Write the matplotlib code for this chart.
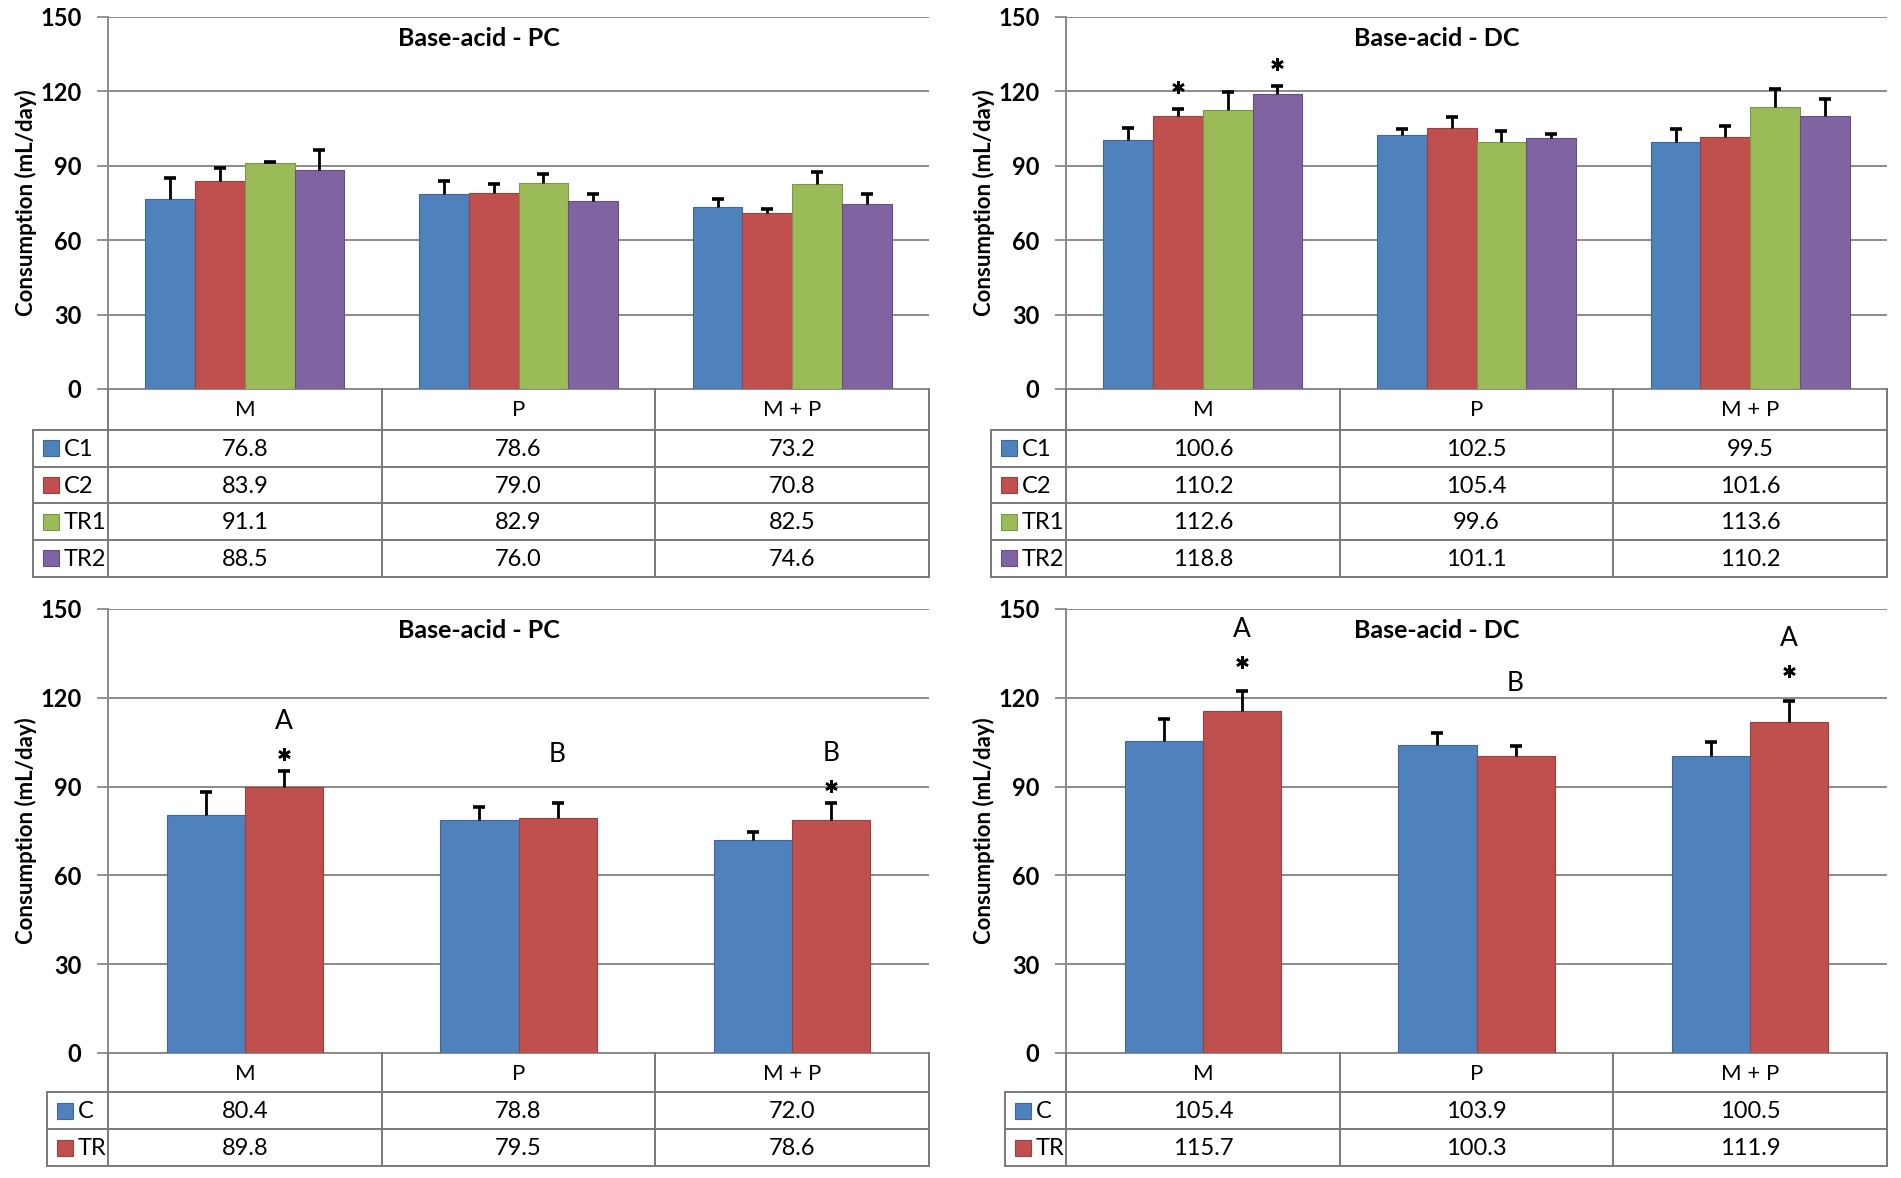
import matplotlib.pyplot as plt
from matplotlib.patches import Rectangle
from matplotlib.colors import to_rgb

W, H = 1901, 1178
plt.rcParams["font.family"] = ["Lato", "DejaVu Sans"]

# ---- data -------------------------------------------------------------
groups = ["M", "P", "M + P"]

names4 = ["C1", "C2", "TR1", "TR2"]
pc4_means = [[76.8, 78.6, 73.2], [83.9, 79.0, 70.8], [91.1, 82.9, 82.5], [88.5, 76.0, 74.6]]
pc4_err = [[8.3, 5.3, 3.4], [5.2, 3.6, 1.8], [0.5, 3.8, 5.0], [7.9, 2.6, 4.0]]
dc4_means = [[100.6, 102.5, 99.5], [110.2, 105.4, 101.6], [112.6, 99.6, 113.6], [118.8, 101.1, 110.2]]
dc4_err = [[4.6, 2.3, 5.3], [2.7, 4.3, 4.4], [7.2, 4.4, 7.4], [3.4, 1.7, 6.8]]
dc4_stars = [(1, 0), (3, 0)]

names2 = ["C", "TR"]
pc2_means = [[80.4, 78.8, 72.0], [89.8, 79.5, 78.6]]
pc2_err = [[7.9, 4.3, 2.8], [5.6, 5.0, 6.0]]
pc2_stars = [(1, 0), (1, 2)]
pc2_letters = ["A", "B", "B"]
dc2_means = [[105.4, 103.9, 100.5], [115.7, 100.3, 111.9]]
dc2_err = [[7.3, 4.3, 4.7], [6.5, 3.5, 7.1]]
dc2_stars = [(1, 0), (1, 2)]
dc2_letters = ["A", "B", "A"]

COLORS = ["#4F81BD", "#C0504D", "#9BBB59", "#8064A2"]
GRID = "#8a8a8a"
TICKS = [0, 30, 60, 90, 120, 150]


def darker(c, f=0.8):
    return tuple(v * f for v in to_rgb(c))


fig = plt.figure(figsize=(W / 100, H / 100), dpi=100)
ov = fig.add_axes([0, 0, 1, 1], zorder=5)
ov.set_xlim(0, W)
ov.set_ylim(H, 0)
ov.axis("off")
ov.patch.set_alpha(0)


def panel(left, right, top, zero, leg_left, head_h, row_h, title, names,
          means, errs, stars=(), letters=None, star_gap=0, letter_gap=0):
    ax = fig.add_axes([left / W, 1 - zero / H, (right - left) / W, (zero - top) / H])
    n = len(names)
    w = 1.0 / (n + 1.5)
    for i in range(n):
        xs = [g + (i - (n - 1) / 2) * w for g in range(3)]
        tops = [m + e for m, e in zip(means[i], errs[i])]
        ax.bar(xs, means[i], width=w, color=COLORS[i], edgecolor=darker(COLORS[i]),
               linewidth=0.8, zorder=3)
        # upper error only, "T" shaped
        ax.errorbar(xs, means[i], yerr=[[0] * 3, errs[i]], fmt="none", ecolor="black",
                    elinewidth=2.0, capsize=0, zorder=4)
        ax.plot(xs, tops, ls="none", marker="_", ms=9, mew=2.6, color="black", zorder=4)
    for i, g in stars:
        x = g + (i - (n - 1) / 2) * w
        ax.plot(x, means[i][g] + errs[i][g] + star_gap, marker=(6, 2, 0), ms=9,
                mew=1.8, color="black", zorder=5, clip_on=False)
    if letters:
        for g, lab in enumerate(letters):
            i = n - 1
            x = g + (i - (n - 1) / 2) * w
            ax.text(x, means[i][g] + errs[i][g] + letter_gap, lab, ha="center",
                    va="center", fontsize=19, zorder=5)
    ax.set_xlim(-0.5, 2.5)
    ax.set_ylim(0, 150)
    ax.set_yticks(TICKS)
    ax.set_yticklabels([str(t) for t in TICKS], fontsize=17, fontweight="bold")
    ax.set_xticks([])
    ax.tick_params(axis="y", length=8, width=1.3, color=GRID, pad=11)
    ax.yaxis.grid(True, color=GRID, linewidth=1.4, zorder=0)
    ax.set_axisbelow(True)
    for s in ("top", "right"):
        ax.spines[s].set_visible(False)
    for s in ("left", "bottom"):
        ax.spines[s].set_color(GRID)
        ax.spines[s].set_linewidth(1.4)
    ax.text(0.452, 1 - 21 / (zero - top), title, transform=ax.transAxes, ha="center",
            va="center", fontsize=18, fontweight="bold")
    ov.text(left - 82, (top + zero) / 2, "Consumption (mL/day)", rotation=90,
            ha="center", va="center", fontsize=16, fontweight="bold")

    # data table under the plot
    bottom = zero + head_h + n * row_h
    colw = (right - left) / 3
    lc = "#7a7a7a"
    for k in range(4):
        x = left + k * colw
        ov.plot([x, x], [zero, bottom], color=lc, lw=1.4)
    ov.plot([leg_left, leg_left], [zero + head_h, bottom], color=lc, lw=1.4)
    for r in range(n + 1):
        y = zero + head_h + r * row_h
        ov.plot([leg_left, right], [y, y], color=lc, lw=1.4)
    for g, lab in enumerate(groups):
        ov.text(left + (g + 0.5) * colw, zero + head_h / 2 + 1, lab, ha="center",
                va="center", fontsize=16)
    for i, nm in enumerate(names):
        yc = zero + head_h + (i + 0.5) * row_h
        ov.add_patch(Rectangle((leg_left + 10, yc - 8), 16, 16, facecolor=COLORS[i],
                               edgecolor=darker(COLORS[i]), lw=0.8))
        ov.text(leg_left + 31, yc + 1, nm, ha="left", va="center", fontsize=17)
        for g in range(3):
            ov.text(left + (g + 0.5) * colw, yc + 1, f"{means[i][g]:.1f}", ha="center",
                    va="center", fontsize=17)


panel(108, 929, 17, 389, 33, 41, 36.7, "Base-acid - PC", names4, pc4_means, pc4_err)
panel(1066, 1887, 17, 389, 991, 41, 36.7, "Base-acid - DC", names4, dc4_means, dc4_err,
      stars=dc4_stars, star_gap=9)
panel(108, 929, 609, 1053, 47, 39, 37, "Base-acid - PC", names2, pc2_means, pc2_err,
      stars=pc2_stars, letters=pc2_letters, star_gap=5.5, letter_gap=16.5)
panel(1066, 1887, 609, 1053, 1005, 39, 37, "Base-acid - DC", names2, dc2_means, dc2_err,
      stars=dc2_stars, letters=dc2_letters, star_gap=10, letter_gap=21)

fig.savefig("out.png", dpi=100)
